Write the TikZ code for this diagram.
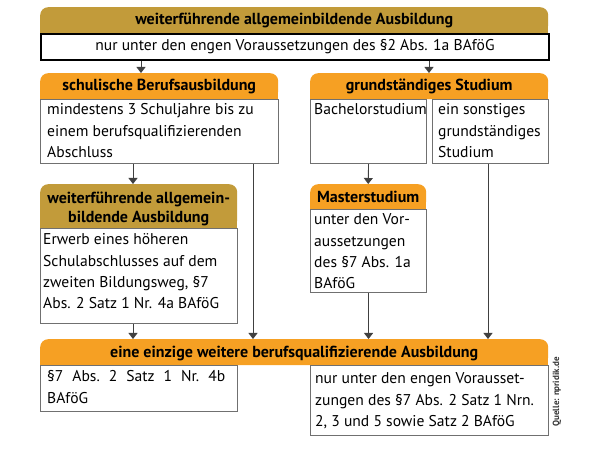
\documentclass[tikz,border=0pt]{standalone}
\usepackage{fontspec}
\setmainfont{PT Sans}
\usetikzlibrary{arrows.meta,backgrounds}
\definecolor{olivehd}{HTML}{C29B3A}
\definecolor{orangehd}{HTML}{F6A023}
\definecolor{boxline}{HTML}{707070}
\definecolor{conn}{HTML}{404040}
\newcommand\tx[1]{\parbox[t]{300pt}{\fontsize{15.6}{21.3}\selectfont\raggedright #1}}
\begin{document}
\begin{tikzpicture}[x=1pt,y=-1pt,
  hdr/.style={fill=#1, rounded corners=8pt, inner sep=0, anchor=north west},
  hdtext/.style={inner sep=0, anchor=base, font=\fontsize{16}{19}\selectfont\bfseries},
  bx/.style={draw=boxline, line width=1.1pt, fill=white, inner sep=0, anchor=north west},
  txt/.style={inner sep=0, anchor=base west},
  conn/.style={draw=conn, line width=0.9pt, -{Triangle[width=9pt,length=6pt]}}]
\useasboundingbox (0,0) rectangle (595,454);

% headers
\node[hdr=olivehd, minimum width=508, minimum height=26] (h1) at (40,7) {};
\node[hdr=orangehd, minimum width=238, minimum height=26] (h2) at (40,73) {};
\node[hdr=orangehd, minimum width=238, minimum height=26] (h3) at (310,73) {};
\node[hdr=olivehd, minimum width=197, minimum height=44] (h4) at (40,184) {};
\node[hdr=orangehd, minimum width=116, minimum height=25] (h5) at (310,184) {};
\node[hdr=orangehd, minimum width=508, minimum height=26] (h6) at (40,339) {};
\begin{scope}[on background layer]
  \fill[olivehd] (h1.west) rectangle (h1.south east);
  \fill[orangehd] (h2.west) rectangle (h2.south east);
  \fill[orangehd] (h3.west) rectangle (h3.south east);
  \fill[olivehd] (h4.west) rectangle (h4.south east);
  \fill[orangehd] (h5.west) rectangle (h5.south east);
  \fill[orangehd] (h6.west) rectangle (h6.south east);
\end{scope}

% boxes
\node[bx, draw=black, line width=2pt, minimum width=508, minimum height=26] (b1) at (40,33) {};
\node[bx, minimum width=238, minimum height=64] (b2) at (40,99) {};
\node[bx, minimum width=116, minimum height=64] (b3a) at (310,99) {};
\node[bx, minimum width=116, minimum height=64] (b3b) at (432,99) {};
\node[bx, minimum width=197, minimum height=95] (b4) at (40,228) {};
\node[bx, minimum width=116, minimum height=83] (b5) at (310,209) {};
\node[bx, minimum width=197, minimum height=46] (b6a) at (40,365) {};
\node[bx, minimum width=238, minimum height=70] (b6b) at (310,365) {};

% header texts
\node[hdtext] at (h1.center |- 0,25) {weiterführende allgemeinbildende Ausbildung};
\node[hdtext] at (h2.center |- 0,91) {schulische Berufsausbildung};
\node[hdtext] at (h3.center |- 0,91) {grundständiges Studium};
\node[hdtext] at (h4.center |- 0,204) {weiterführende allgemein-};
\node[hdtext] at (h4.center |- 0,223) {bildende Ausbildung};
\node[hdtext] at (h5.center |- 0,203) {Masterstudium};
\node[hdtext] at (h6.center |- 0,358) {eine einzige weitere berufsqualifizierende Ausbildung};

% box texts
\node[inner sep=0, anchor=base, font=\fontsize{15.6}{19}\selectfont] at (b1.center |- 0,51) {nur unter den engen Voraussetzungen des §2 Abs. 1a BAföG};
\node[txt] at (47,115) {\tx{mindestens 3 Schuljahre bis zu\\einem berufsqualifizierenden\\Abschluss}};
\node[txt] at (314,115) {\tx{Bachelorstudium}};
\node[txt] at (438,115) {\tx{ein sonstiges\\grundständiges\\Studium}};
\node[txt] at (43,245) {\tx{Erwerb eines höheren\\Schulabschlusses auf dem\\zweiten Bildungsweg, §7\\Abs. 2 Satz 1 Nr. 4a BAföG}};
\node[txt] at (314,225) {\tx{unter den Vor-\\aussetzungen\\des §7 Abs. 1a\\BAföG}};
\node[txt] at (47,382) {\tx{\makebox[178pt][s]{§7\hfill Abs.\hfill 2\hfill Satz\hfill 1\hfill Nr.\hfill 4b}\\BAföG}};
\node[txt] at (315,384) {\tx{nur unter den engen Vorausset-\\zungen des §7 Abs. 2 Satz 1 Nrn.\\2, 3 und 5 sowie Satz 2 BAföG}};

% source
\node[inner sep=0, rotate=90, font=\fontsize{9}{10}\selectfont\bfseries, text=black!80] (src) at (557,392) {Quelle: npridik.de};

% connectors
\draw[conn] (b1.south -| 141,0) -- (h2.north -| 141,0);
\draw[conn] (b1.south -| 429,0) -- (h3.north -| 429,0);
\draw[conn] (b2.south -| 133,0) -- (h4.north -| 133,0);
\draw[conn] (b2.south -| 253,0) -- (h6.north -| 253,0);
\draw[conn] (b3a.south) -- (h5.north);
\draw[conn] (b3b.south -| 488,0) -- (h6.north -| 488,0);
\draw[conn] (b4.south -| 133,0) -- (h6.north -| 133,0);
\draw[conn] (b5.south) -- (h6.north -| b5.south);
\end{tikzpicture}
\end{document}
